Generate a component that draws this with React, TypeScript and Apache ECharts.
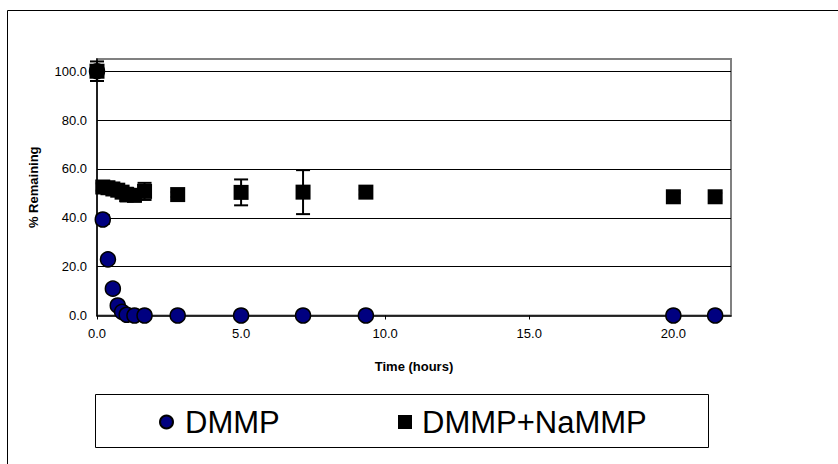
import React, { useEffect, useRef } from "react";
import * as echarts from "echarts";

// Time (hours) and % remaining
const dmmpTime = [0, 0.2, 0.38, 0.55, 0.72, 0.87, 1.03, 1.3, 1.65, 2.8, 5.0, 7.15, 9.33, 20.0, 21.45];
const dmmpValue = [100, 39.3, 23.0, 11.0, 4.1, 1.5, 0.3, 0, 0, 0, 0, 0, 0, 0, 0];
const dmmpError = [0, 1.8, 1.0, 1.0, 0.8, 0.5, 0.3, 0, 0, 0, 0, 0, 0, 0, 0];

const mixTime = [0, 0.2, 0.38, 0.55, 0.72, 0.87, 1.03, 1.3, 1.65, 2.8, 5.0, 7.15, 9.33, 20.0, 21.45];
const mixValue = [100, 52.6, 52.3, 51.8, 51.3, 50.5, 49.5, 49.2, 50.8, 49.5, 50.4, 50.5, 50.5, 48.6, 48.6];
const mixError = [4, 1.5, 1.5, 1.5, 1.8, 2.0, 2.8, 2.5, 3.5, 1.0, 5.3, 9.0, 1.0, 1.5, 1.5];

const seriesNames = ["DMMP", "DMMP+NaMMP"];
const xTitle = "Time (hours)";
const yTitle = "% Remaining";

const FONT = "'Liberation Sans', Arial, sans-serif";

function errorBar(params: any, api: any) {
  const x = api.value(0);
  const y = api.value(1);
  const e = api.value(2);
  if (!e) return null;
  const top = api.coord([x, y + e]);
  const bot = api.coord([x, y - e]);
  const hw = 7;
  const style = { stroke: "#000", lineWidth: 2 };
  return {
    type: "group",
    children: [
      { type: "line", shape: { x1: top[0], y1: top[1], x2: bot[0], y2: bot[1] }, style },
      { type: "line", shape: { x1: top[0] - hw, y1: top[1], x2: top[0] + hw, y2: top[1] }, style },
      { type: "line", shape: { x1: bot[0] - hw, y1: bot[1], x2: bot[0] + hw, y2: bot[1] }, style },
    ],
  };
}

export default function App() {
  const ref = useRef<HTMLDivElement>(null);
  useEffect(() => {
    if (!ref.current) return;
    const chart = echarts.init(ref.current, null, { renderer: "svg" });
    const dmmpData = dmmpTime.map((t, i) => [t, dmmpValue[i]]);
    const mixData = mixTime.map((t, i) => [t, mixValue[i]]);
    const dmmpErr = dmmpTime.map((t, i) => [t, dmmpValue[i], dmmpError[i]]);
    const mixErr = mixTime.map((t, i) => [t, mixValue[i], mixError[i]]);

    chart.setOption({
      animation: false,
      backgroundColor: "#fff",
      textStyle: { fontFamily: FONT },
      grid: {
        left: 97,
        right: 107,
        top: 59,
        bottom: 148.5,
        show: true,
        borderColor: "#808080",
        borderWidth: 2,
        backgroundColor: "#fff",
      },
      xAxis: {
        type: "value",
        min: 0,
        max: 22,
        interval: 5,
        z: 3,
        name: xTitle,
        nameLocation: "middle",
        nameGap: 44,
        nameTextStyle: { fontFamily: FONT, fontWeight: "bold", fontSize: 13, color: "#000" },
        axisLine: { show: true, onZero: false, lineStyle: { color: "#000", width: 1.5 } },
        axisTick: { show: true, length: 4, lineStyle: { color: "#000" } },
        axisLabel: {
          fontFamily: FONT,
          fontSize: 13,
          color: "#000",
          margin: 11,
          showMaxLabel: false,
          formatter: (v: number) => (v % 5 === 0 ? v.toFixed(1) : ""),
        },
        splitLine: { show: false },
      },
      yAxis: {
        type: "value",
        min: 0,
        max: 105,
        interval: 20,
        z: 3,
        name: yTitle,
        nameLocation: "middle",
        nameGap: 57,
        nameTextStyle: { fontFamily: FONT, fontWeight: "bold", fontSize: 13, color: "#000" },
        axisLine: { show: true, lineStyle: { color: "#000", width: 1.5 } },
        axisTick: { show: false },
        axisLabel: {
          fontFamily: FONT,
          fontSize: 13,
          color: "#000",
          margin: 10,
          showMaxLabel: false,
          formatter: (v: number) => (v % 20 === 0 ? v.toFixed(1) : ""),
        },
        splitLine: { show: true, showMaxLine: false, showMinLine: false, lineStyle: { color: "#000", width: 1 } },
      },
      legend: [
        {
          data: [seriesNames[0]],
          left: 159,
          top: 406,
          padding: 0,
          itemWidth: 13,
          itemHeight: 13,
          textStyle: { fontFamily: FONT, fontSize: 31, color: "#000", lineHeight: 32, padding: [0, 0, 0, 7] },
        },
        {
          data: [seriesNames[1]],
          left: 398,
          top: 406,
          padding: 0,
          itemWidth: 14,
          itemHeight: 14,
          textStyle: { fontFamily: FONT, fontSize: 31, color: "#000", lineHeight: 32, padding: [0, 0, 0, 5] },
        },
      ],
      graphic: [
        {
          type: "rect",
          shape: { x: 7.5, y: 10.5, width: 900, height: 600 },
          style: { fill: "none", stroke: "#000", lineWidth: 1 },
          silent: true,
          z: -10,
        },
        {
          type: "rect",
          shape: { x: 95.5, y: 394.5, width: 613, height: 53 },
          style: { fill: "none", stroke: "#000", lineWidth: 1 },
          silent: true,
        },
      ],
      series: [
        {
          type: "custom",
          name: "dmmpErr",
          renderItem: errorBar,
          data: dmmpErr,
          encode: { x: 0, y: 1 },
          z: 3,
          silent: true,
        },
        {
          type: "custom",
          name: "mixErr",
          renderItem: errorBar,
          data: mixErr,
          encode: { x: 0, y: 1 },
          z: 3,
          silent: true,
        },
        {
          name: seriesNames[0],
          type: "scatter",
          data: dmmpData,
          symbol: "circle",
          symbolSize: 15,
          z: 4,
          itemStyle: { color: "#000080", borderColor: "#000", borderWidth: 1.5, opacity: 1 },
        },
        {
          name: seriesNames[1],
          type: "scatter",
          data: mixData,
          symbol: "rect",
          symbolSize: 15,
          z: 5,
          itemStyle: { color: "#000", opacity: 1 },
        },
      ],
    });
    return () => chart.dispose();
  }, []);
  return <div ref={ref} style={{ position: "fixed", left: 0, top: 0, width: 838, height: 464 }} />;
}
